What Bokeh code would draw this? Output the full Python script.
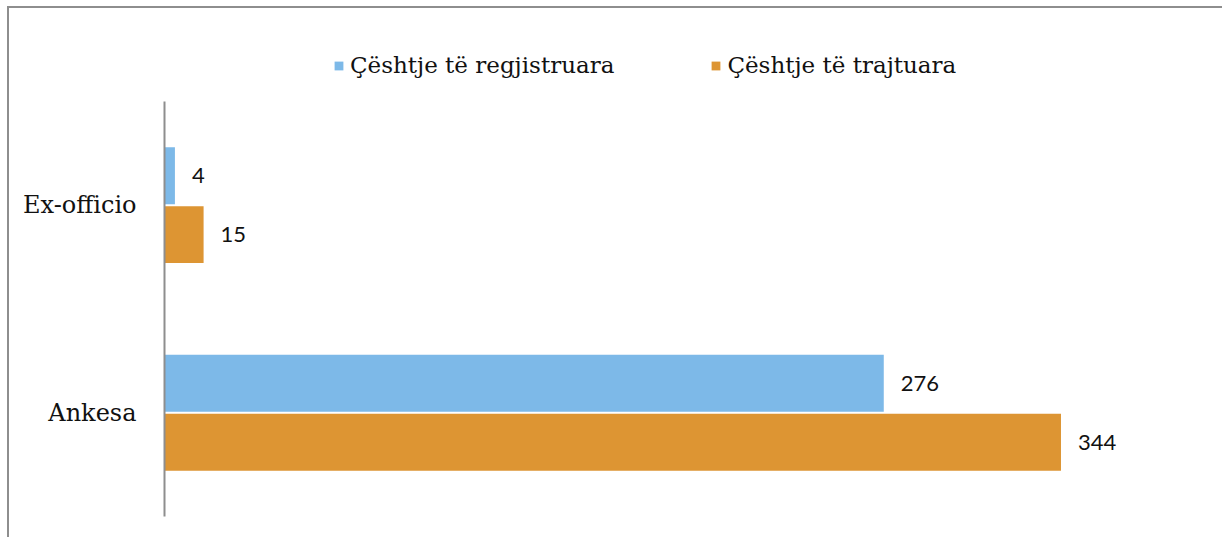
from bokeh.plotting import figure
from bokeh.models import ColumnDataSource, Legend, LegendItem, Range1d, FixedTicker
from bokeh.transform import dodge
from bokeh.core.properties import value
from bokeh.embed import file_html
from bokeh.resources import INLINE

categories = ["Ankesa", "Ex-officio"]
registered = [276, 4]
handled = [344, 15]
series_names = ["Çështje të regjistruara", "Çështje të trajtuara"]

BLUE = "#7db9e8"
ORANGE = "#dd9533"
GRAY = "#8e8e8e"
SERIF = "DejaVu Serif"
SANS = "Lato"

idx = list(range(len(categories)))
src = ColumnDataSource(dict(
    idx=idx,
    reg=registered,
    han=handled,
    reg_txt=[str(v) for v in registered],
    han_txt=[str(v) for v in handled],
))

p = figure(
    width=1215, height=531,
    y_range=Range1d(-0.5, 1.948),
    x_range=Range1d(0, 396),
    output_backend="svg", toolbar_location=None,
    min_border_left=155, min_border_right=28,
    min_border_top=0, min_border_bottom=23,
)
p.styles = {"border-top": f"2px solid {GRAY}", "border-left": f"2px solid {GRAY}",
            "margin-top": "6px", "margin-left": "7px"}

off = 0.142
r1 = p.hbar(y=dodge("idx", off), left=0, right="reg", height=0.274,
            fill_color=BLUE, line_color=None, source=src)
r2 = p.hbar(y=dodge("idx", -off), left=0, right="han", height=0.274,
            fill_color=ORANGE, line_color=None, source=src)

p.text(x="reg", y=dodge("idx", off), text="reg_txt", x_offset=17,
       text_baseline="middle", text_align="left", text_font=value(SANS),
       text_font_size="22px", text_color="#111111", source=src)
p.text(x="han", y=dodge("idx", -off), text="han_txt", x_offset=17,
       text_baseline="middle", text_align="left", text_font=value(SANS),
       text_font_size="22px", text_color="#111111", source=src)

legend = Legend(
    items=[LegendItem(label=series_names[0], renderers=[r1]),
           LegendItem(label=series_names[1], renderers=[r2])],
    orientation="horizontal",
    location=(169, 438),
    glyph_width=11, glyph_height=11,
    label_standoff=6, spacing=96,
    padding=0, margin=0,
    border_line_color=None, background_fill_alpha=0,
    label_text_font=SERIF, label_text_font_size="23px", label_text_color="#111111",
)
p.add_layout(legend, "center")

p.xaxis.visible = False
p.xgrid.visible = False
p.ygrid.visible = False
p.outline_line_color = None
yax = p.yaxis[0]
yax.ticker = FixedTicker(ticks=idx)
yax.major_label_overrides = {i: c for i, c in zip(idx, categories)}
yax.bounds = (-0.5, len(categories) - 0.5)
yax.axis_line_color = GRAY
yax.axis_line_width = 2
yax.major_tick_line_color = None
yax.minor_tick_line_color = None
yax.major_label_text_font = SERIF
yax.major_label_text_font_size = "24px"
yax.major_label_text_color = "#111111"
yax.major_label_standoff = 22

open("out.html", "w").write(file_html(p, INLINE))
